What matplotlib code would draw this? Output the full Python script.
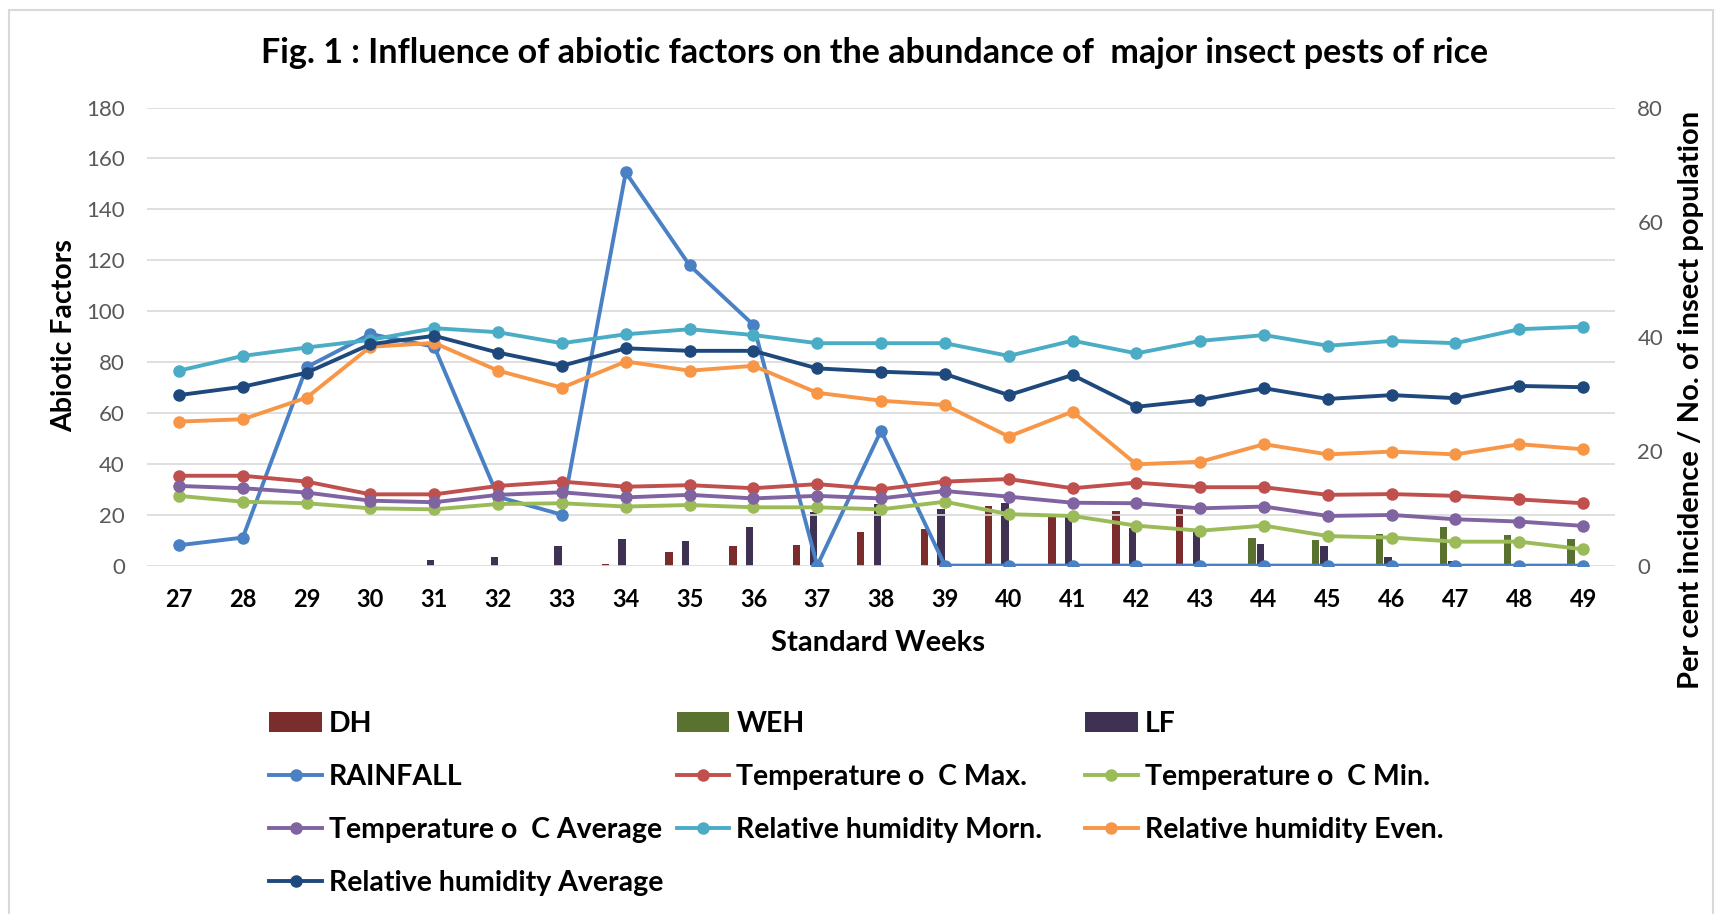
import matplotlib.pyplot as plt
import numpy as np
from matplotlib.patches import Rectangle

plt.rcParams['font.family'] = ['Lato', 'DejaVu Sans']

# standard weeks 27..49
weeks = [27, 28, 29, 30, 31, 32, 33, 34, 35, 36, 37, 38, 39, 40, 41, 42, 43, 44, 45, 46, 47, 48, 49]

# insect pests (right axis, per cent incidence / population)
dh = [0, 0, 0, 0, 0, 0, 0, 0.3, 2.3, 3.4, 3.6, 5.8, 6.4, 10.4, 8.4, 9.5, 9.9, 0, 0, 0, 0, 0, 0]
weh = [0, 0, 0, 0, 0, 0, 0, 0, 0, 0, 0, 0, 0, 0, 0, 0, 0, 4.9, 4.4, 5.6, 6.7, 5.3, 4.7]
lf = [0, 0, 0, 0, 0.9, 1.5, 3.4, 4.7, 4.3, 6.7, 9.3, 10.8, 9.8, 10.9, 8.4, 6.6, 6.0, 3.8, 3.4, 1.5, 0.75, 0, 0]

# abiotic factors (left axis)
rainfall = [8, 11, 78, 91, 86, 27, 20, 154.5, 118, 94.6, 0, 53, 0, 0, 0, 0, 0, 0, 0, 0, 0, 0, 0]
t_max = [35.3, 35.3, 33, 28, 28, 31.3, 33, 31, 31.6, 30.4, 32, 30, 33, 34, 30.4, 32.6, 30.8, 30.8, 27.8, 28.1, 27.4, 26, 24.5]
t_min = [27.4, 25.1, 24.5, 22.5, 22.1, 24.2, 24.5, 23.2, 23.8, 22.9, 22.9, 22.1, 25.1, 20.2, 19.5, 15.7, 13.7, 15.7, 11.6, 11, 9.4, 9.4, 6.4]
t_avg = [31.3, 30.4, 28.7, 25.5, 24.9, 27.8, 28.8, 26.8, 27.8, 26.4, 27.4, 26.4, 29.3, 27.1, 24.7, 24.5, 22.5, 23.2, 19.5, 19.9, 18.2, 17.3, 15.6]
rh_morn = [76.6, 82.4, 85.7, 88.7, 93.3, 91.7, 87.4, 90.9, 92.9, 90.6, 87.4, 87.4, 87.4, 82.4, 88.4, 83.4, 88.3, 90.6, 86.4, 88.3, 87.4, 92.9, 93.9]
rh_even = [56.6, 57.5, 66, 86, 87.5, 76.6, 69.9, 80.2, 76.6, 78.5, 67.9, 64.8, 63.1, 50.7, 60.5, 39.8, 40.8, 47.7, 43.7, 44.8, 43.7, 47.7, 45.7]
rh_avg = [67, 70.3, 75.8, 87, 90.3, 83.7, 78.5, 85.4, 84.4, 84.4, 77.5, 76.2, 75.3, 67, 74.9, 62.4, 65.1, 69.7, 65.5, 67, 65.8, 70.6, 70.1]

bar_series = [("DH", dh, "#7B2C2C"), ("WEH", weh, "#5A7230"), ("LF", lf, "#3F3152")]
line_series = [
    ("RAINFALL", rainfall, "#4A80C4"),
    ("Temperature o  C Max.", t_max, "#C0504D"),
    ("Temperature o  C Min.", t_min, "#9BBB59"),
    ("Temperature o  C Average", t_avg, "#8064A2"),
    ("Relative humidity Morn.", rh_morn, "#4BACC6"),
    ("Relative humidity Even.", rh_even, "#F79646"),
    ("Relative humidity Average", rh_avg, "#1F497D"),
]

fig = plt.figure(figsize=(17.22, 9.14), dpi=100)
ax = fig.add_axes([0.0854, 0.3812, 0.8525, 0.5011])
ax2 = ax.twinx()
ax.set_zorder(2)
ax.patch.set_visible(False)
ax2.set_zorder(1)

x = np.arange(len(weeks))
bar_w = 0.115
offsets = [-0.32, -0.19, -0.06]
handles = {}
for (name, vals, col), off in zip(bar_series, offsets):
    handles[name] = ax2.bar(x + off, vals, width=bar_w, color=col, label=name)

for name, vals, col in line_series:
    handles[name], = ax.plot(x, vals, color=col, lw=2.8, marker='o', markersize=8, label=name)

ax.set_xlim(-0.5, len(weeks) - 0.5)
ax.set_ylim(0, 180)
ax.set_yticks(range(0, 181, 20))
ax2.set_ylim(0, 80)
ax2.set_yticks(range(0, 81, 20))
ax.set_xticks(x)
ax.set_xticklabels([str(w) for w in weeks], fontsize=17, fontweight='bold')
ax.tick_params(axis='x', length=0, pad=16)
ax.tick_params(axis='y', length=0, pad=16, labelsize=16, labelcolor='#595959')
ax2.tick_params(axis='y', length=0, pad=16, labelsize=16, labelcolor='#595959')
ax.grid(axis='y', color='#D9D9D9', lw=1.2)
for a in (ax, ax2):
    for s in a.spines.values():
        s.set_visible(False)

fig.text(0.508, 0.942, "Fig. 1 : Influence of abiotic factors on the abundance of  major insect pests of rice",
         ha='center', va='center', fontsize=24.5, fontweight='bold')
fig.text(0.037, 0.633, "Abiotic Factors", rotation=90, ha='center', va='center',
         fontsize=20.5, fontweight='bold')
fig.text(0.982, 0.562, "Per cent incidence / No. of insect population", rotation=90,
         ha='center', va='center', fontsize=21, fontweight='bold')
fig.text(0.51, 0.297, "Standard Weeks", ha='center', va='center', fontsize=21, fontweight='bold')

# legend laid out as three columns, read row by row
columns = [
    ["DH", "RAINFALL", "Temperature o  C Average", "Relative humidity Average"],
    ["WEH", "Temperature o  C Max.", "Relative humidity Morn."],
    ["LF", "Temperature o  C Min.", "Relative humidity Even."],
]
col_x = [0.1448, 0.3814, 0.6186]
for names, cx in zip(columns, col_x):
    leg = fig.legend([handles[k] for k in names], names, loc='upper left',
                     bbox_to_anchor=(cx, 0.244), ncol=1, frameon=False,
                     prop={'size': 20.5, 'weight': 'bold'},
                     handlelength=1.85, handletextpad=0.25, labelspacing=0.95,
                     borderpad=0.2)

fig.add_artist(Rectangle((0.005, -0.05), 0.99, 1.039, transform=fig.transFigure,
                         fill=False, edgecolor='#D9D9D9', lw=1.5))

fig.savefig("out.png", dpi=100)
